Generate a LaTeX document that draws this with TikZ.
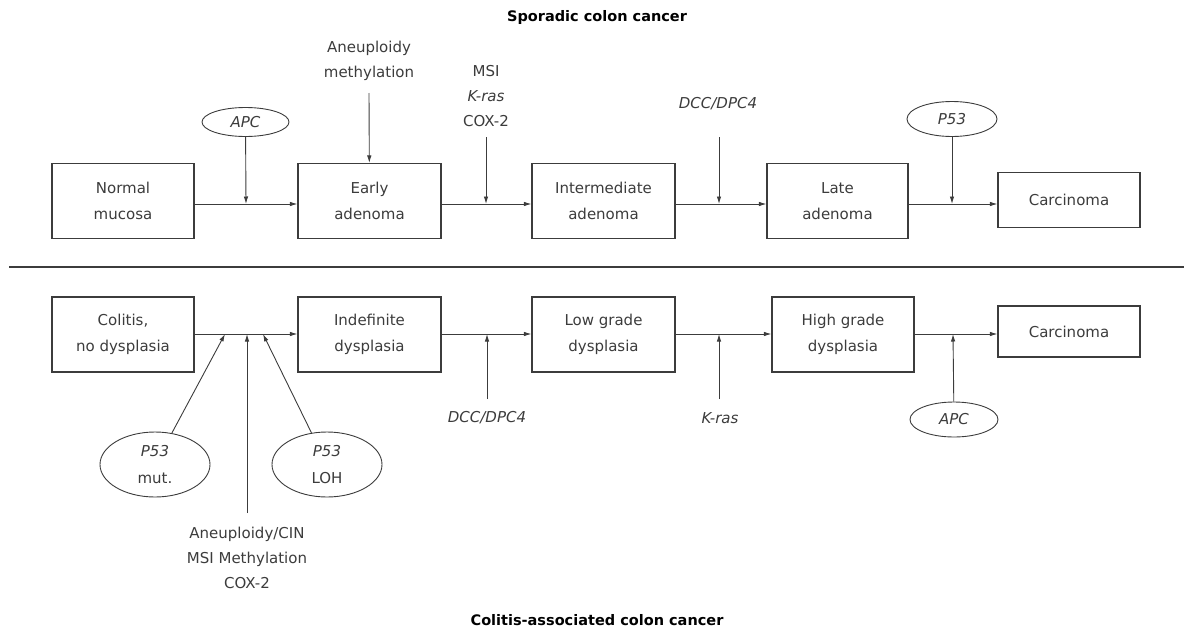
\documentclass[tikz,border=0pt]{standalone}
\usepackage{fontspec}
\setmainfont{DejaVu Sans}
\usetikzlibrary{arrows.meta,shapes.geometric}
\definecolor{ink}{RGB}{60,60,60}
\begin{document}
\begin{tikzpicture}[x=1pt,y=-1pt,
  every node/.style={text=ink},
  box/.style={draw=ink,line width=1.1pt,minimum width=142pt,minimum height=75pt,inner sep=0pt,align=center,font=\fontsize{15}{26}\selectfont},
  oval/.style={draw=ink,line width=0.9pt,ellipse,inner sep=0pt,align=center,font=\fontsize{15}{27}\selectfont},
  lbl/.style={align=center,inner sep=0pt,font=\fontsize{15}{25}\selectfont},
  ttl/.style={font=\fontsize{14.5}{16}\selectfont\bfseries,text=black,inner sep=0pt},
  arr/.style={draw=ink,line width=0.9pt,-{Latex[length=7.5pt,width=4.5pt]}}]
\useasboundingbox (0,0) rectangle (1184,632);
% titles and divider
\node[ttl] (t1) at (597,17) {Sporadic colon cancer};
\node[ttl] (t2) at (597,620) {Colitis-associated colon cancer};
\coordinate (dl) at (9,267);
\coordinate (dr) at (1184,267);
\draw[draw=ink,line width=1.4pt] (dl) -- (dr);
% ---------- top row
\node[box] (nm) at (123,201) {Normal\\mucosa};
\node[box,minimum width=143pt] (ea) at (369.5,201) {Early\\adenoma};
\node[box,minimum width=143pt] (ia) at (603.5,201) {Intermediate\\adenoma};
\node[box,minimum width=141pt] (la) at (837.5,201) {Late\\adenoma};
\node[box,minimum height=55pt] (ca) at (1069,200) {Carcinoma};
\coordinate (m1) at (246,204);
\coordinate (m2) at (486,204);
\coordinate (m3) at (719,204);
\coordinate (m4) at (952,204);
\draw[arr] (nm.east |- m1) -- (ea.west |- m1);
\draw[arr] (ea.east |- m2) -- (ia.west |- m2);
\draw[arr] (ia.east |- m3) -- (la.west |- m3);
\draw[arr] (la.east |- m4) -- (ca.west |- m4);
\node[oval,minimum width=87pt,minimum height=29pt] (apc1) at (245.5,122) {\itshape APC};
\node[lbl] (aneu) at (369,60.5) {Aneuploidy\\methylation};
\coordinate (aneuS) at (369,93);
\node[lbl] (msi) at (486,96.5) {MSI\\\itshape K-ras\\COX-2};
\coordinate (msiS) at (486,137);
\node[lbl] (dcc1) at (718,104) {\itshape DCC/DPC4};
\coordinate (dccS) at (719,137);
\node[oval,minimum width=90pt,minimum height=35pt] (p53a) at (952,119) {\itshape P53};
\draw[arr] (apc1) -- (m1);
\draw[arr] (aneuS) -- (ea);
\draw[arr] (msiS) -- (m2);
\draw[arr] (dccS) -- (m3);
\draw[arr] (p53a) -- (m4);
% ---------- bottom row
\node[box] (cn) at (123,334.5) {Colitis,\\no dysplasia};
\node[box,minimum width=143pt] (id) at (369.5,334.5) {Indefinite\\dysplasia};
\node[box,minimum width=143pt] (lg) at (603.5,334.5) {Low grade\\dysplasia};
\node[box] (hg) at (843,334.5) {High grade\\dysplasia};
\node[box,minimum height=51pt] (cb) at (1069,331.5) {Carcinoma};
\coordinate (b1) at (225,334);
\coordinate (b2) at (247,334);
\coordinate (b3) at (263,334);
\coordinate (b4) at (487,334);
\coordinate (b5) at (719,334);
\coordinate (b6) at (953,334);
\draw[arr] (cn.east |- b2) -- (id.west |- b2);
\draw[arr] (id.east |- b4) -- (lg.west |- b4);
\draw[arr] (lg.east |- b5) -- (hg.west |- b5);
\draw[arr] (hg.east |- b6) -- (cb.west |- b6);
\node[oval,minimum width=110pt,minimum height=65pt] (pm) at (155,464.5) {\itshape P53\\mut.};
\node[oval,minimum width=110pt,minimum height=65pt] (pl) at (327,464.5) {\itshape P53\\LOH};
\node[lbl] (cin) at (247,558) {Aneuploidy/CIN\\MSI Methylation\\COX-2};
\coordinate (cinN) at (247,513);
\node[lbl] (dcc2) at (487,418) {\itshape DCC/DPC4};
\coordinate (dcc2N) at (487,399);
\node[lbl] (kras) at (720,418) {\itshape K-ras};
\coordinate (krasN) at (719,399);
\node[oval,minimum width=88pt,minimum height=35pt] (apc2) at (954,419.5) {\itshape APC};
\draw[arr] (pm) -- (b1);
\draw[arr] (cinN) -- (b2);
\draw[arr] (pl) -- (b3);
\draw[arr] (dcc2N) -- (b4);
\draw[arr] (krasN) -- (b5);
\draw[arr] (apc2) -- (b6);
\end{tikzpicture}
\end{document}
